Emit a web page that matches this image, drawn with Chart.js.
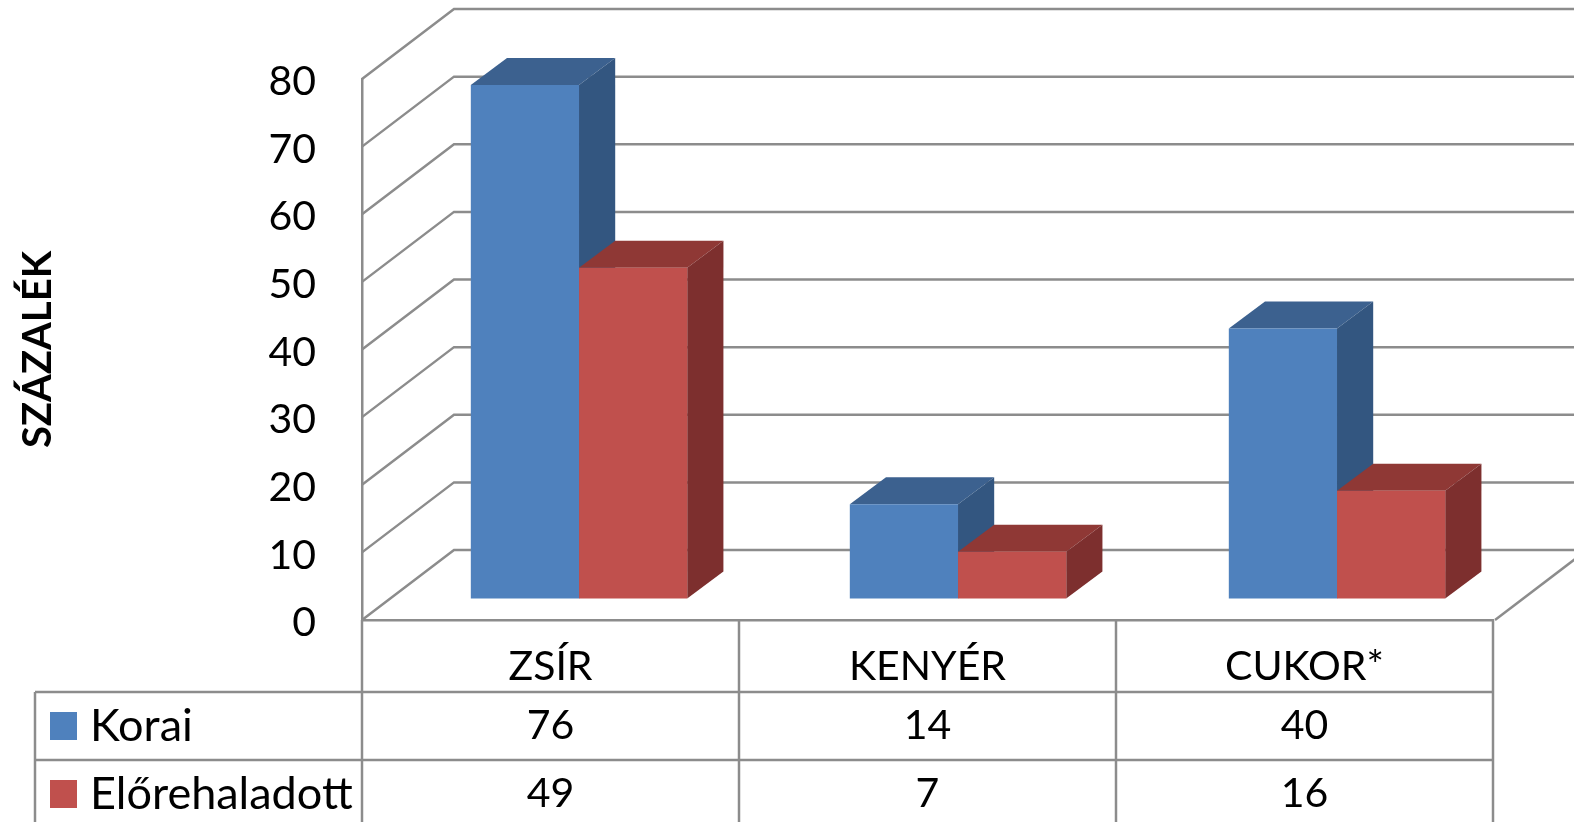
<!DOCTYPE html>
<html>
<head>
<meta charset="utf-8">
<style>
  html, body { margin: 0; padding: 0; background: #fff; overflow: hidden; }
  canvas { display: block; }
</style>
<script src="https://cdn.jsdelivr.net/npm/chart.js@4"></script>
</head>
<body>
<canvas id="chart" width="1574" height="822"></canvas>
<script>
const categories = ["ZSÍR", "KENYÉR", "CUKOR*"];
const korai = [76, 14, 40];
const elorehaladott = [49, 7, 16];
const seriesNames = ["Korai", "Előrehaladott"];
const seriesColors = ["#4f81bd", "#c0504d"];
const sideColors = ["#335680", "#7d2f2e"];
const topColors = ["#3c618f", "#8f3835"];

const lineColor = "#8c8c8c";
const lineWidth = 2.5;
const fontName = "Lato, 'Open Sans', sans-serif";

// 3d look: back wall offset and the offset/depth of the bars
const wallDx = 92, wallDy = 70;
const barDx = 36, barDy = 27;
const barShift = [1.0053, 0, 0, 1, 25.6, -21];

const rows = [korai, elorehaladott];
const tableLeft = 35;
const rowLines = [692, 760];
const rowMid = [726, 794];

// walls and floor, then side and top of the bars, library draws the fronts
const walls3d = {
  id: "walls3d",
  afterLayout(chart) {
    // tick labels sit a bit lower in the original
    const y = chart.scales.y;
    if (!y.labelsMoved) {
      const draw = y.drawLabels;
      y.drawLabels = function (area) {
        this.ctx.save();
        this.ctx.translate(0, 3);
        draw.call(this, area);
        this.ctx.restore();
      };
      y.labelsMoved = true;
    }
  },
  beforeDatasetsDraw(chart) {
    const ctx = chart.ctx;
    const y = chart.scales.y;
    const a = chart.chartArea;
    ctx.save();
    ctx.strokeStyle = lineColor;
    ctx.lineWidth = lineWidth;
    y.ticks.forEach((t) => {
      const py = y.getPixelForValue(t.value);
      ctx.beginPath();
      ctx.moveTo(a.left, py);
      ctx.lineTo(a.left + wallDx, py - wallDy);
      ctx.lineTo(chart.width, py - wallDy);
      ctx.stroke();
    });
    ctx.beginPath();
    ctx.moveTo(a.right + 2, a.bottom);
    ctx.lineTo(a.right + 2 + wallDx, a.bottom - wallDy);
    ctx.stroke();
    ctx.restore();

    ctx.save();
    ctx.transform(...barShift);
    [0, 1].forEach((d) => {
      chart.getDatasetMeta(d).data.forEach((bar) => {
        const l = bar.x - bar.width / 2;
        const r = bar.x + bar.width / 2;
        ctx.fillStyle = topColors[d];
        ctx.beginPath();
        ctx.moveTo(l, bar.y);
        ctx.lineTo(l + barDx, bar.y - barDy);
        ctx.lineTo(r + barDx, bar.y - barDy);
        ctx.lineTo(r, bar.y);
        ctx.fill();
        ctx.fillStyle = sideColors[d];
        ctx.beginPath();
        ctx.moveTo(r, bar.y);
        ctx.lineTo(r + barDx, bar.y - barDy);
        ctx.lineTo(r + barDx, bar.base - barDy);
        ctx.lineTo(r, bar.base);
        ctx.fill();
      });
    });
  },
  afterDatasetsDraw(chart) {
    chart.ctx.restore();
  },
};

// data table under the chart
const dataTable = {
  id: "dataTable",
  afterDraw(chart) {
    const ctx = chart.ctx;
    const x = chart.scales.x;
    const a = chart.chartArea;
    const colEdges = [a.left];
    categories.forEach((c, i) => colEdges.push(x.getPixelForValue(i) + (a.right - a.left) / categories.length / 2));

    ctx.save();
    ctx.strokeStyle = lineColor;
    ctx.lineWidth = lineWidth;
    colEdges.forEach((cx) => {
      ctx.beginPath();
      ctx.moveTo(cx, a.bottom);
      ctx.lineTo(cx, chart.height);
      ctx.stroke();
    });
    ctx.beginPath();
    ctx.moveTo(tableLeft, rowLines[0]);
    ctx.lineTo(tableLeft, chart.height);
    ctx.stroke();
    rowLines.forEach((ry) => {
      ctx.beginPath();
      ctx.moveTo(tableLeft, ry);
      ctx.lineTo(a.right, ry);
      ctx.stroke();
    });

    ctx.fillStyle = "#000";
    ctx.textBaseline = "middle";
    rows.forEach((values, r) => {
      ctx.fillStyle = seriesColors[r];
      ctx.fillRect(50, rowMid[r] - 14, 27, 28);
      ctx.fillStyle = "#000";
      ctx.textAlign = "left";
      ctx.font = "45px " + fontName;
      ctx.fillText(seriesNames[r], 90, rowMid[r]);
      ctx.textAlign = "center";
      ctx.font = "41px " + fontName;
      values.forEach((v, i) => ctx.fillText(String(v), x.getPixelForValue(i), rowMid[r]));
    });
    ctx.restore();
  },
};

new Chart(document.getElementById("chart").getContext("2d"), {
  type: "bar",
  data: {
    labels: categories,
    datasets: [
      { label: seriesNames[0], data: korai, backgroundColor: seriesColors[0], clip: false },
      { label: seriesNames[1], data: elorehaladott, backgroundColor: seriesColors[1], clip: false },
    ],
  },
  options: {
    responsive: false,
    animation: false,
    layout: { padding: { top: 79, right: 81, left: 0, bottom: 0 } },
    datasets: { bar: { categoryPercentage: 0.571, barPercentage: 1 } },
    plugins: {
      legend: { display: false },
      tooltip: { enabled: false },
    },
    scales: {
      x: {
        afterFit: (s) => { s.height = 202; },
        grid: { display: false },
        border: { color: lineColor, width: lineWidth },
        ticks: { color: "#000", padding: 14, maxRotation: 0, font: { family: fontName, size: 41 } },
      },
      y: {
        min: 0,
        max: 80,
        afterFit: (s) => { s.width = 362; },
        grid: { drawOnChartArea: false, drawTicks: false },
        border: { color: lineColor, width: lineWidth },
        ticks: { stepSize: 10, color: "#000", padding: 46, font: { family: fontName, size: 41 } },
        title: {
          display: true,
          text: "SZÁZALÉK",
          color: "#000",
          padding: { top: 14, bottom: 0 },
          font: { family: fontName, size: 40, weight: "bold" },
        },
      },
    },
  },
  plugins: [walls3d, dataTable],
});
</script>
</body>
</html>
